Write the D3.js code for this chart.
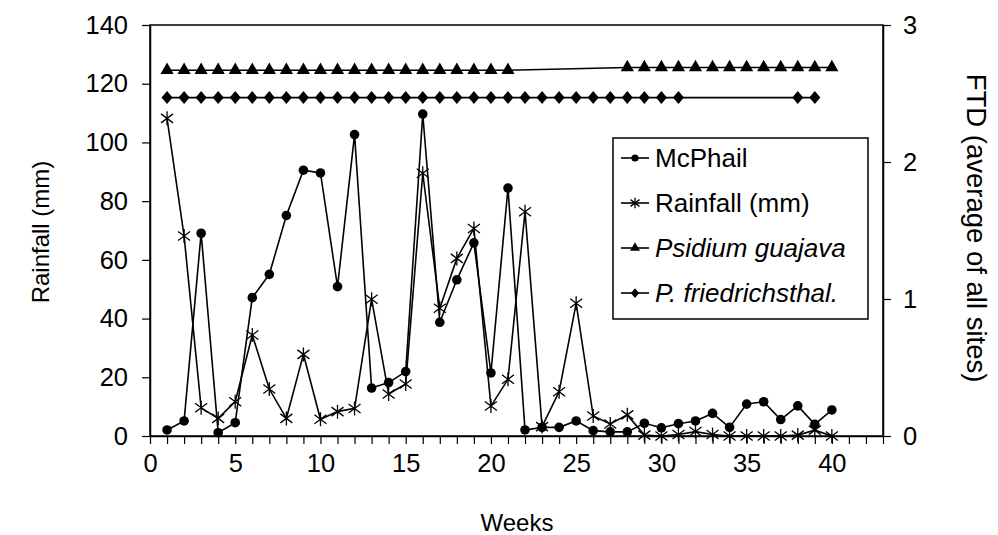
<!DOCTYPE html>
<html><head><meta charset="utf-8">
<script src="https://cdn.jsdelivr.net/npm/d3@7"></script>
<style>
body{margin:0;background:#fff;}
svg{display:block;font-family:"Liberation Sans",Arial,sans-serif;}
</style></head>
<body><svg id="c" width="998" height="535"></svg>
<script>
const weeks = [1,2,3,4,5,6,7,8,9,10,11,12,13,14,15,16,17,18,19,20,21,22,23,24,25,26,27,28,29,30,31,32,33,34,35,36,37,38,39,40];
const mcphail = [0.044,0.11,1.48,0.024,0.097,1.01,1.18,1.61,1.94,1.92,1.09,2.20,0.35,0.39,0.47,2.35,0.83,1.14,1.41,0.46,1.81,0.044,0.063,0.063,0.11,0.039,0.03,0.03,0.093,0.06,0.09,0.11,0.165,0.063,0.233,0.25,0.12,0.22,0.085,0.19];
const rainfall = [108.2,68.1,9.6,6.0,11.7,34.4,16.0,6.0,27.8,5.7,8.3,9.4,46.6,14.3,17.7,89.5,43.5,60.5,70.7,10.2,19.3,76.4,3.2,15.1,45.2,6.8,4.1,7.2,0.3,0,0.5,1.5,0.5,0,0,0,0,0.3,2,0];
const psidiumWeeks = [1,2,3,4,5,6,7,8,9,10,11,12,13,14,15,16,17,18,19,20,21,28,29,30,31,32,33,34,35,36,37,38,39,40];
const psidiumFTD = [2.67,2.67,2.67,2.67,2.67,2.67,2.67,2.67,2.67,2.67,2.67,2.67,2.67,2.67,2.67,2.67,2.67,2.67,2.67,2.67,2.67,2.69,2.69,2.69,2.69,2.69,2.69,2.69,2.69,2.69,2.69,2.69,2.69,2.69];
const friedWeeks = [1,2,3,4,5,6,7,8,9,10,11,12,13,14,15,16,17,18,19,20,21,22,23,24,25,26,27,28,29,30,31,38,39];
const friedFTD = [2.47,2.47,2.47,2.47,2.47,2.47,2.47,2.47,2.47,2.47,2.47,2.47,2.47,2.47,2.47,2.47,2.47,2.47,2.47,2.47,2.47,2.47,2.47,2.47,2.47,2.47,2.47,2.47,2.47,2.47,2.47,2.47,2.47];
const leftTicks = [0,20,40,60,80,100,120,140];
const rightTicks = [0,1,2,3];
const xLabelTicks = [0,5,10,15,20,25,30,35,40];
const legendLabels = ["McPhail","Rainfall (mm)","Psidium guajava","P. friedrichsthal."];

const svg = d3.select("#c");
const L=150, R=883, T=25, B=436;
const x = d3.scaleLinear().domain([0,43]).range([L,R]);
const yL = d3.scaleLinear().domain([0,140]).range([B,T]);
const yR = d3.scaleLinear().domain([0,3]).range([B,T]);

svg.append("rect").attr("x",L).attr("y",T).attr("width",R-L).attr("height",B-T)
  .attr("fill","none").attr("stroke","#000").attr("stroke-width",1.5);

const fs = 25.5;
const gx = svg.append("g").attr("transform",`translate(0,${B})`)
  .call(d3.axisBottom(x).tickValues(d3.range(0,44)).tickSize(8).tickSizeOuter(0)
    .tickFormat(d => xLabelTicks.includes(d) ? d : ""));
const gl = svg.append("g").attr("transform",`translate(${L},0)`)
  .call(d3.axisLeft(yL).tickValues(leftTicks).tickSize(8).tickSizeOuter(0));
const gr = svg.append("g").attr("transform",`translate(${R},0)`)
  .call(d3.axisRight(yR).tickValues(rightTicks).tickSize(8).tickSizeOuter(0).tickFormat(d3.format("d")));
[gx,gl,gr].forEach(g=>{
  g.select(".domain").attr("stroke","#000").attr("stroke-width",1.5);
  g.selectAll(".tick line").attr("stroke","#000").attr("stroke-width",1.2);
  g.selectAll(".tick text").attr("font-size",fs).attr("font-family","Liberation Sans, Arial, sans-serif").attr("fill","#000");
});
gx.selectAll(".tick text").attr("dy","0.98em");
gl.selectAll(".tick text").attr("x",-22);
gr.selectAll(".tick text").attr("x",20);

svg.append("text").attr("transform","translate(40,232) rotate(-90)").attr("text-anchor","middle")
  .attr("dominant-baseline","central").attr("font-size",24).text("Rainfall (mm)");
svg.append("text").attr("transform","translate(976,228) rotate(90)").attr("text-anchor","middle")
  .attr("dominant-baseline","central").attr("font-size",27.5).text("FTD (average of all sites)");
svg.append("text").attr("x",517).attr("y",522).attr("text-anchor","middle")
  .attr("dominant-baseline","central").attr("font-size",24).text("Weeks");

const circleM = (g,s) => g.append("circle").attr("r",4.8*s).attr("fill","#000");
const triM = (g,s) => g.append("path").attr("d",d3.symbol(d3.symbolTriangle,75*s*s)()).attr("fill","#000");
const diaM = (g,s) => g.append("path").attr("d",`M0,${-6.5*s}L${5.5*s},0L0,${6.5*s}L${-5.5*s},0Z`).attr("fill","#000");
const starM = (g,s) => g.append("path").attr("d",`M0,${-7*s}V${7*s}M${-6*s},${-4.5*s}L${6*s},${4.5*s}M${6*s},${-4.5*s}L${-6*s},${4.5*s}`)
  .attr("stroke","#000").attr("stroke-width",1.3).attr("fill","none");

function series(xs, ys, yScale, marker){
  const pts = xs.map((w,i)=>[x(w), yScale(ys[i])]);
  svg.append("path").attr("d",d3.line()(pts)).attr("fill","none").attr("stroke","#000").attr("stroke-width",1.6);
  pts.forEach(p=>{ const g=svg.append("g").attr("transform",`translate(${p[0]},${p[1]})`); marker(g,1); });
}
series(psidiumWeeks, psidiumFTD, yR, triM);
series(friedWeeks, friedFTD, yR, diaM);
series(weeks, rainfall, yL, starM);
series(weeks, mcphail, yR, circleM);

svg.append("rect").attr("x",613).attr("y",138).attr("width",255).attr("height",181)
  .attr("fill","#fff").attr("stroke","#000").attr("stroke-width",1.5);
const markers=[circleM,starM,triM,diaM];
legendLabels.forEach((lab,i)=>{
  const cy = 158 + i*45;
  svg.append("line").attr("x1",621).attr("x2",649).attr("y1",cy).attr("y2",cy).attr("stroke","#000").attr("stroke-width",1.6);
  const g = svg.append("g").attr("transform",`translate(635,${cy})`);
  markers[i](g,0.75);
  svg.append("text").attr("x",655).attr("y",cy).attr("dominant-baseline","central")
    .attr("font-size",26).attr("font-style", i>=2 ? "italic":"normal").text(lab);
});
</script></body></html>
